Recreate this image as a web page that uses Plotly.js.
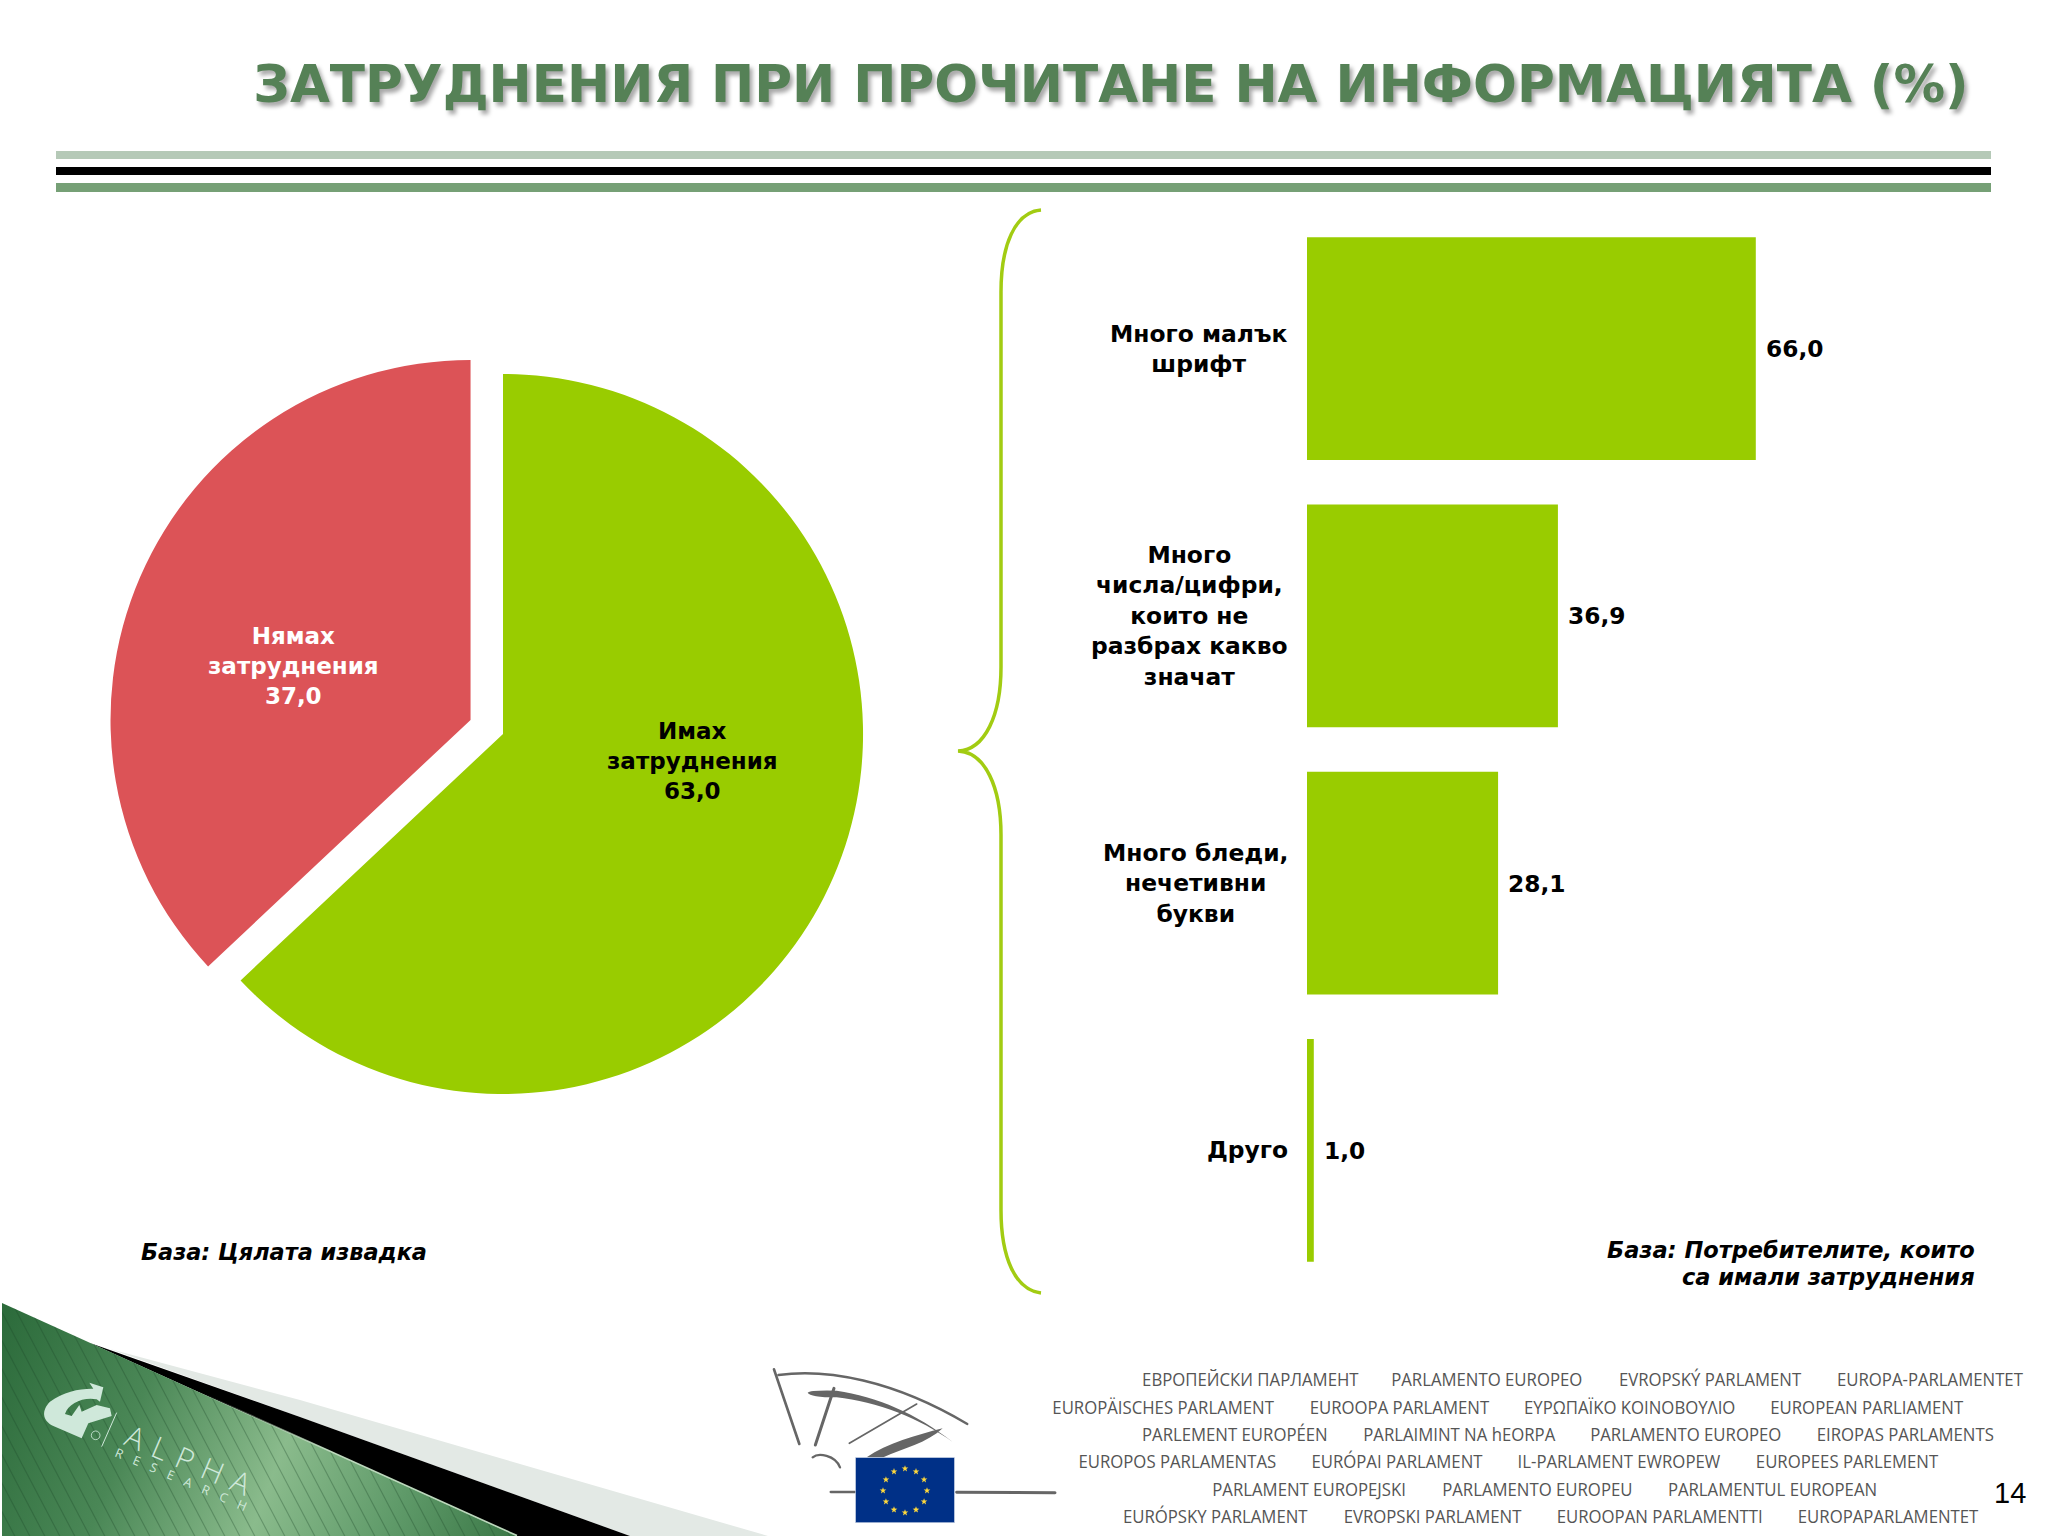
<!DOCTYPE html>
<html><head><meta charset="utf-8">
<script src="https://cdn.plot.ly/plotly-3.0.1.min.js"></script>
<style>html,body{margin:0;padding:0;background:#fff}#c{width:2048px;height:1536px}</style></head>
<body><div id="c"></div>
<script>
const pieLabels = ['Имах<br>затруднения','Нямах<br>затруднения'];
const pieValues = [63.0, 37.0];
const pieColors = ['#99CC00','#DC5357'];
const barCategories = ['Много малък<br>шрифт','Много<br>числа/цифри,<br>които не<br>разбрах какво<br>значат','Много бледи,<br>нечетивни<br>букви','Друго'];
const barValues = [66.0, 36.9, 28.1, 1.0];
const titleText = 'ЗАТРУДНЕНИЯ ПРИ ПРОЧИТАНЕ НА ИНФОРМАЦИЯТА (%)';
const baseLeft = 'База: Цялата извадка';
const baseRightLines = ['База: Потребителите, които','са имали затруднения'];
const parliamentLines = [
 ['ЕВРОПЕЙСКИ ПАРЛАМЕНТ','PARLAMENTO EUROPEO','EVROPSKÝ PARLAMENT','EUROPA-PARLAMENTET'],
 ['EUROPÄISCHES PARLAMENT','EUROOPA PARLAMENT','ΕΥΡΩΠΑΪΚΟ ΚΟΙΝΟΒΟΥΛΙΟ','EUROPEAN PARLIAMENT'],
 ['PARLEMENT EUROPÉEN','PARLAIMINT NA hEORPA','PARLAMENTO EUROPEO','EIROPAS PARLAMENTS'],
 ['EUROPOS PARLAMENTAS','EURÓPAI PARLAMENT','IL-PARLAMENT EWROPEW','EUROPEES PARLEMENT'],
 ['PARLAMENT EUROPEJSKI','PARLAMENTO EUROPEU','PARLAMENTUL EUROPEAN'],
 ['EURÓPSKY PARLAMENT','EVROPSKI PARLAMENT','EUROOPAN PARLAMENTTI','EUROPAPARLAMENTET']
];
const parliamentCenters = [
 [1250,1487,1710,1930],
 [1163,1399,1629,1867],
 [1235,1459,1686,1905],
 [1177,1397,1619,1847],
 [1309,1537,1772],
 [1215,1432,1659,1888]
];
const parliamentY = [1379,1407,1434,1461,1489,1516];

const W=2048,H=1536;
const fx=x=>x/W, fy=y=>1-y/H;
const fmt=v=>v.toFixed(1).replace('.',',');
const DJ='"DejaVu Sans", Verdana, sans-serif';
const P=(x,y)=>fx(x)+' '+fy(y);

function cornerSvg(){
  let hatch='';
  for(let i=-60;i<70;i++){const x0=i*15; hatch+=`<line x1="${x0}" y1="0" x2="${x0+140}" y2="266" stroke="#1e4a2a" stroke-opacity="0.33" stroke-width="1.1"/>`;}
  return `<svg xmlns="http://www.w3.org/2000/svg" width="800" height="256" viewBox="0 0 800 256">
<defs><linearGradient id="g" gradientUnits="userSpaceOnUse" x1="0" y1="20" x2="520" y2="220">
<stop offset="0" stop-color="#2b6a3a"/><stop offset="0.3" stop-color="#4a8756"/><stop offset="0.57" stop-color="#8abb8c"/><stop offset="0.8" stop-color="#5f9a69"/><stop offset="1" stop-color="#3d7a49"/></linearGradient>
<linearGradient id="e" gradientUnits="userSpaceOnUse" x1="200" y1="112" x2="517" y2="255">
<stop offset="0" stop-color="#bcd8bc" stop-opacity="0"/><stop offset="0.4" stop-color="#bcd8bc" stop-opacity="1"/><stop offset="1" stop-color="#bcd8bc" stop-opacity="1"/></linearGradient>
<clipPath id="k"><polygon points="2,23 517,256 2,256"/></clipPath></defs>
<polygon points="110,69 300,120 768,256 630,256 300,137" fill="#E3E9E5"/>
<polygon points="90,63 300,137 630,256 517,256" fill="#000"/>
<polygon points="2,23 517,256 2,256" fill="url(#g)"/>
<g clip-path="url(#k)">${hatch}</g>
<line x1="200" y1="112.4" x2="517" y2="255.6" stroke="url(#e)" stroke-width="1.6"/>
<g transform="translate(0,10) scale(0.3333)" fill="#CFE8DA">
<path d="M310 292 L268 278 L280 296 C240 295 190 305 150 335 C125 360 125 390 160 408 L245 445 L265 400 L335 378 L330 355 L290 345 L245 365 L238 345 L215 378 L195 372 C205 340 250 320 290 328 L300 335 Z"/>
<line x1="350" y1="368" x2="305" y2="470" stroke="#CFE8DA" stroke-width="3"/>
<circle cx="287" cy="436" r="13" fill="none" stroke="#CFE8DA" stroke-width="2.5"/>
</g></svg>`;
}
function logoSvg(){
  let stars='';
  for(let i=0;i<12;i++){
    const a=i*Math.PI/6, cx=435+66*Math.sin(a), cy=392-66*Math.cos(a);
    let pts=[];
    for(let j=0;j<10;j++){const r=j%2?4.2:10.5,b=j*Math.PI/5;pts.push((cx+r*Math.sin(b)).toFixed(1)+','+(cy-r*Math.cos(b)).toFixed(1));}
    stars+=`<polygon points="${pts.join(' ')}" fill="#FFD93B"/>`;
  }
  return `<svg xmlns="http://www.w3.org/2000/svg" width="320" height="170" viewBox="0 0 960 510">
<g fill="none" stroke="#666" stroke-linecap="round">
<path d="M42 28 L118 252" stroke-width="8"/>
<path d="M55 45 C200 25 400 60 622 192" stroke-width="7"/>
<path d="M222 85 L166 255" stroke-width="9"/>
<path d="M470 132 L268 250" stroke-width="5"/>
<path d="M158 292 C175 278 225 285 240 322" stroke-width="7"/>
<path d="M212 396 L285 396" stroke-width="7"/>
<path d="M590 397 L885 398" stroke-width="9"/>
</g>
<path d="M143 98 Q150 90 230 92 C350 110 470 160 578 246 C480 175 350 125 230 112 Q150 112 143 98Z" fill="#666"/>
<path d="M320 292 C380 250 470 225 548 205 C500 250 430 265 370 292Z" fill="#666"/>
<rect x="287" y="293" width="296" height="195" fill="#003087" stroke="#b9c6dd" stroke-width="2"/>
${stars}</svg>`;
}
const svgUri=s=>'data:image/svg+xml;charset=utf-8,'+encodeURIComponent(s);
const img=(s,x,y,w,h)=>({source:svgUri(s),xref:'paper',yref:'paper',x:fx(x),y:fy(y),sizex:w/W,sizey:h/H,xanchor:'left',yanchor:'top',sizing:'stretch',layer:'below'});

const pie={type:'pie',values:pieValues,labels:pieLabels,sort:false,direction:'clockwise',rotation:0,
  pull:[0,0.0982],marker:{colors:pieColors,line:{width:0}},textinfo:'none',hoverinfo:'label+value',showlegend:false,
  domain:{x:[fx(503-395.4),fx(503+395.4)],y:[fy(734+395.4),fy(734-395.4)]}};
const bar={type:'bar',orientation:'h',y:barCategories,x:barValues,marker:{color:'#99CC00',line:{width:0}},
  width:0.834,xaxis:'x',yaxis:'y',showlegend:false,hoverinfo:'x+y'};

const ann=[];
const A=o=>ann.push(Object.assign({showarrow:false,borderpad:0},o));
const font=(size,color,extra)=>Object.assign({family:DJ,size:size,color:color,weight:700},extra||{});
const piePos=[[692,761,'#000'],[293,666,'#fff']];
pieValues.forEach((v,i)=>A({xref:'paper',yref:'paper',x:fx(piePos[i][0]),y:fy(piePos[i][1]),xanchor:'center',yanchor:'middle',align:'center',
  text:pieLabels[i]+'<br>'+fmt(v),font:font(23,piePos[i][2])}));
barCategories.forEach((c,i)=>{
  A({xref:'x',yref:'y',x:0,y:c,xanchor:'right',yanchor:'middle',align:'center',xshift:-18,text:c,font:font(23.4,'#000')});
  A({xref:'x',yref:'y',x:barValues[i],y:c,xanchor:'left',yanchor:'middle',xshift:9,text:fmt(barValues[i]),font:font(23.3,'#000')});
});
A({xref:'paper',yref:'paper',x:fx(140),y:fy(1252),xanchor:'left',yanchor:'middle',text:baseLeft,font:font(22.4,'#000',{style:'italic'})});
baseRightLines.forEach((t,i)=>A({xref:'paper',yref:'paper',x:fx(1976),y:fy(1250+27.4*i),xanchor:'right',yanchor:'middle',text:t,font:font(22.5,'#000',{style:'italic'})}));
parliamentLines.forEach((line,r)=>line.forEach((t,c)=>A({xref:'paper',yref:'paper',x:fx(parliamentCenters[r][c]),y:fy(parliamentY[r]),xanchor:'center',yanchor:'middle',text:t,
  font:{family:'"Open Sans",sans-serif',size:18,color:'#555'}})));
A({xref:'paper',yref:'paper',x:fx(2010),y:fy(1493),xanchor:'center',yanchor:'middle',text:'14',font:{family:'"Liberation Sans",sans-serif',size:29,color:'#000'}});
A({xref:'paper',yref:'paper',x:fx(193),y:fy(1461),xanchor:'center',yanchor:'middle',textangle:23,text:'ALPHA',font:{family:'"Open Sans",sans-serif',size:30,color:'#CFE8DA',weight:300}});
A({xref:'paper',yref:'paper',x:fx(186),y:fy(1481),xanchor:'center',yanchor:'middle',textangle:23,text:'RESEARCH',font:{family:'"Open Sans",sans-serif',size:12.5,color:'#CFE8DA'}});

const rect=(y0,y1,c)=>({type:'rect',xref:'paper',yref:'paper',x0:fx(56),x1:fx(1991),y0:fy(y0),y1:fy(y1),fillcolor:c,line:{width:0},layer:'below'});
const brace='M '+P(1041,210)+' C '+P(1015,212)+' '+P(1001,245)+' '+P(1001,292)+' L '+P(1001,667)+' C '+P(1001,715)+' '+P(985,750)+' '+P(958,751)+
  ' C '+P(985,752)+' '+P(1001,787)+' '+P(1001,835)+' L '+P(1001,1210)+' C '+P(1001,1257)+' '+P(1015,1290)+' '+P(1041,1293);

const layout={width:W,height:H,margin:{l:0,r:0,t:0,b:0,pad:0},paper_bgcolor:'#fff',plot_bgcolor:'rgba(0,0,0,0)',showlegend:false,
  title:{text:titleText,x:fx(1111),y:fy(84),xanchor:'center',yanchor:'middle',font:{family:DJ,size:51.6,color:'#558156',weight:700,shadow:'3px 4px 4px rgba(0,0,0,0.35)'}},
  xaxis:{domain:[fx(1307),fx(1987)],range:[0,100],visible:false,fixedrange:true},
  yaxis:{domain:[fy(1284),fy(215)],type:'category',categoryorder:'array',categoryarray:barCategories,range:[3.5,-0.5],visible:false,fixedrange:true},
  shapes:[rect(151,159,'#B5C9B7'),rect(167,175,'#000'),rect(183,192,'#76A076'),
    {type:'path',xref:'paper',yref:'paper',path:brace,line:{color:'#A2CC12',width:3.5},layer:'above'}],
  images:[img(cornerSvg(),0,1280,800,256),img(logoSvg(),760,1360,320,170)],
  annotations:ann};

Plotly.newPlot('c',[pie,bar],layout,{displayModeBar:false,staticPlot:true}).then(()=>{
  const names=new Set(parliamentLines.flat());
  document.querySelectorAll('.annotation-text').forEach(t=>{
    const s=t.textContent;
    if(s==='ALPHA') t.style.letterSpacing='10.5px';
    if(s==='RESEARCH') t.style.letterSpacing='11.5px';
    if(names.has(s)){
      t.setAttribute('textLength',(t.getComputedTextLength()*0.93).toFixed(1));
      t.setAttribute('lengthAdjust','spacingAndGlyphs');
    }
  });
});
</script></body></html>
